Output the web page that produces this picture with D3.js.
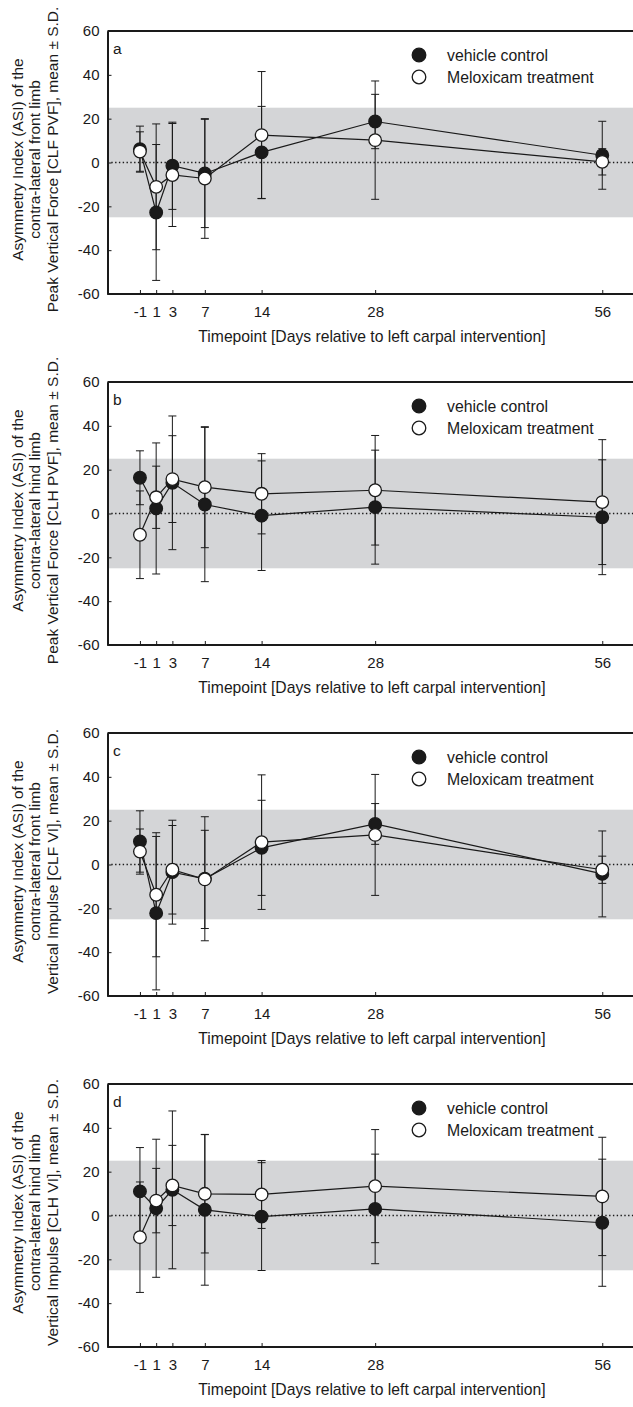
<!DOCTYPE html>
<html>
<head>
<meta charset="utf-8">
<script src="https://cdn.jsdelivr.net/npm/d3@7"></script>
<style>
  body { margin: 0; background: #fff; }
  svg { display: block; font-family: "Liberation Sans", Arial, sans-serif; }
  .axis path, .axis line { stroke: #1a1a1a; }
  .axis text { font-size: 15px; fill: #1a1a1a; }
</style>
</head>
<body>
<script>
// chart size
const width = 633;
const height = 1407;

// timepoints (days relative to left carpal intervention)
const days = [-1, 1, 3, 7, 14, 28, 56];
const yTicks = [-60, -40, -20, 0, 20, 40, 60];
const band = [-25, 25];

const panelLetters = ["a", "b", "c", "d"];
const titleLine2 = [
  "contra-lateral front limb",
  "contra-lateral hind limb",
  "contra-lateral front limb",
  "contra-lateral hind limb"
];
const titleLine3 = [
  "Peak Vertical Force [CLF PVF], mean \u00b1 S.D.",
  "Peak Vertical Force [CLH PVF], mean \u00b1 S.D.",
  "Vertical Impulse [CLF VI], mean \u00b1 S.D.",
  "Vertical Impulse [CLH VI], mean \u00b1 S.D."
];

// vehicle control, one row per panel
const vehicleMean = [
  [6.1, -22.8, -1.5, -5.0, 4.6, 18.7, 3.3],
  [16.3, 2.3, 14.0, 4.1, -1.0, 2.9, -1.7],
  [10.5, -22.2, -3.5, -6.5, 7.6, 18.5, -4.3],
  [11.0, 3.3, 11.7, 2.6, -0.5, 3.0, -3.3]
];
const vehicleSD = [
  [10.5, 31.0, 19.9, 24.7, 21.0, 12.4, 15.5],
  [12.3, 29.9, 30.5, 35.2, 25.0, 26.0, 26.2],
  [14.0, 35.0, 23.7, 28.3, 21.7, 9.3, 19.6],
  [20.0, 31.5, 36.0, 34.4, 24.6, 25.0, 29.0]
];

// Meloxicam treatment
const meloxMean = [
  [5.0, -11.1, -5.7, -7.3, 12.5, 10.2, 0.3],
  [-9.7, 7.4, 15.7, 12.0, 9.0, 10.6, 5.2],
  [5.9, -13.8, -2.4, -6.8, 10.2, 13.5, -2.4],
  [-9.9, 6.8, 13.7, 9.9, 9.6, 13.4, 8.7]
];
const meloxSD = [
  [9.0, 28.7, 23.5, 27.3, 29.0, 27.0, 6.0],
  [20.0, 14.2, 19.8, 27.6, 18.3, 25.0, 28.5],
  [10.3, 28.3, 20.2, 22.4, 30.7, 27.6, 6.2],
  [25.2, 14.7, 18.3, 27.0, 15.5, 25.8, 27.0]
];

const svg = d3.select("body")
  .append("svg")
  .attr("width", width)
  .attr("height", height);

const x = d3.scaleLinear().domain([-5, 60]).range([107.5, 634.7]);
const panelTop = 31;
const panelHeight = 263;
const panelStep = 351;
const plain = d => String(d); // hyphen minus like the original

panelLetters.forEach((letter, i) => {
  const top = panelTop + i * panelStep;
  const y = d3.scaleLinear().domain([-60, 60]).range([top + panelHeight, top]);
  const g = svg.append("g");

  // grey band
  g.append("rect")
    .attr("x", x(-5))
    .attr("y", y(band[1]))
    .attr("width", width - x(-5))
    .attr("height", y(band[0]) - y(band[1]))
    .attr("fill", "#d4d5d7");

  // dotted zero line
  g.append("line")
    .attr("x1", x(-5)).attr("x2", width)
    .attr("y1", y(0)).attr("y2", y(0))
    .attr("stroke", "#1a1a1a")
    .attr("stroke-width", 1.4)
    .attr("stroke-dasharray", "1.4,2.4");

  // top frame line
  g.append("line")
    .attr("x1", x(-5)).attr("x2", width)
    .attr("y1", top).attr("y2", top)
    .attr("stroke", "#1a1a1a")
    .attr("stroke-width", 2);

  // axes
  g.append("g")
    .attr("class", "axis")
    .attr("transform", `translate(${x(-5)},0)`)
    .call(d3.axisLeft(y).tickValues(yTicks).tickFormat(plain)
      .tickSizeInner(-4).tickSizeOuter(0).tickPadding(8))
    .call(a => a.select(".domain").attr("stroke-width", 2));

  g.append("g")
    .attr("class", "axis")
    .attr("transform", `translate(0,${y(-60)})`)
    .call(d3.axisBottom(x).tickValues(days).tickFormat(plain)
      .tickSizeInner(-4).tickSizeOuter(0).tickPadding(12))
    .call(a => a.select(".domain").attr("stroke-width", 2).attr("d", `M${x(-5)},0H${width}`));

  // series: error bars, lines, markers
  const series = [
    { mean: vehicleMean[i], sd: vehicleSD[i], fill: "#1a1a1a" },
    { mean: meloxMean[i], sd: meloxSD[i], fill: "#fff" }
  ];

  series.forEach(s => {
    const pts = days.map((d, k) => ({ d, m: s.mean[k], sd: s.sd[k] }));
    const eb = g.append("g").selectAll("g").data(pts).enter().append("g")
      .attr("stroke", "#1a1a1a").attr("stroke-width", 1);
    eb.append("line")
      .attr("x1", p => x(p.d)).attr("x2", p => x(p.d))
      .attr("y1", p => y(p.m + p.sd)).attr("y2", p => y(p.m - p.sd));
    [1, -1].forEach(sign => {
      eb.append("line")
        .attr("x1", p => x(p.d) - 4).attr("x2", p => x(p.d) + 4)
        .attr("y1", p => y(p.m + sign * p.sd)).attr("y2", p => y(p.m + sign * p.sd));
    });
  });

  series.forEach(s => {
    g.append("path")
      .datum(days.map((d, k) => [d, s.mean[k]]))
      .attr("fill", "none")
      .attr("stroke", "#1a1a1a")
      .attr("stroke-width", 1.2)
      .attr("d", d3.line().x(p => x(p[0])).y(p => y(p[1])));
  });

  series.forEach(s => {
    g.append("g").selectAll("circle")
      .data(days.map((d, k) => [d, s.mean[k]]))
      .enter().append("circle")
      .attr("cx", p => x(p[0]))
      .attr("cy", p => y(p[1]))
      .attr("r", 6.3)
      .attr("fill", s.fill)
      .attr("stroke", "#1a1a1a")
      .attr("stroke-width", 1.3);
  });

  // panel letter
  g.append("text")
    .attr("x", 113)
    .attr("y", top + 23)
    .style("font-size", "15.5px")
    .attr("fill", "#1a1a1a")
    .text(letter);

  // legend
  const legend = [["vehicle control", "#1a1a1a"], ["Meloxicam treatment", "#fff"]];
  legend.forEach((item, k) => {
    const ly = top + 24 + k * 22;
    g.append("circle")
      .attr("cx", 419).attr("cy", ly).attr("r", 6.8)
      .attr("fill", item[1]).attr("stroke", "#1a1a1a").attr("stroke-width", 1.3);
    g.append("text")
      .attr("x", 447).attr("y", ly + 5.5)
      .style("font-size", "15.8px")
      .attr("fill", "#1a1a1a")
      .text(item[0]);
  });

  // x axis title
  g.append("text")
    .attr("x", 372)
    .attr("y", y(-60) + 48)
    .attr("text-anchor", "middle")
    .style("font-size", "15.7px")
    .attr("fill", "#1a1a1a")
    .text("Timepoint [Days relative to left carpal intervention]");

  // y axis title, three lines
  const lines = ["Asymmetry Index (ASI) of the", titleLine2[i], titleLine3[i]];
  const cy = y(0) - 3;
  lines.forEach((t, k) => {
    g.append("text")
      .attr("transform", `translate(${23 + k * 17.3},${cy}) rotate(-90)`)
      .attr("text-anchor", "middle")
      .style("font-size", "15.5px")
      .attr("fill", "#1a1a1a")
      .text(t);
  });
});
</script>
</body>
</html>
